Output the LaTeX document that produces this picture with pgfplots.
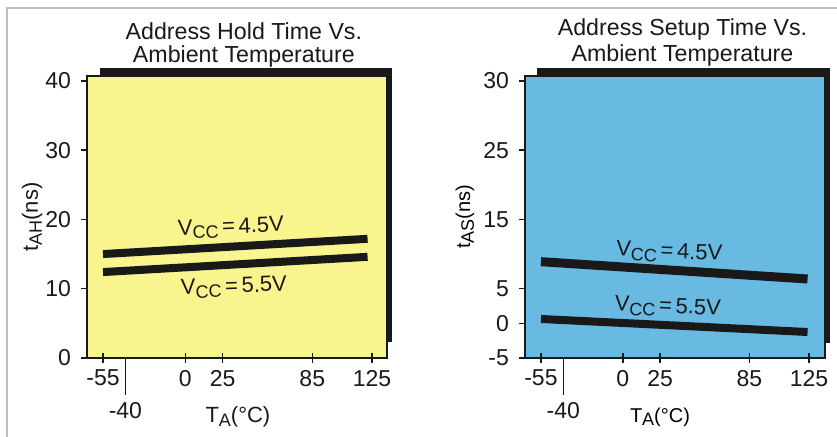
\documentclass[border=0pt]{standalone}
\usepackage{pgfplots}
\pgfplotsset{compat=1.18}
\usepackage{fontspec}
\setmainfont{Liberation Sans}
\definecolor{yel}{RGB}{248,244,142}
\definecolor{blu}{RGB}{104,186,226}
\definecolor{ink}{RGB}{25,25,25}
\newcommand\lo[1]{\raisebox{-0.35ex}{\fontsize{9}{9}\selectfont #1}}
\newcommand\vcc[1]{V\lo{CC}\,=\,#1V}
\begin{document}
\begin{tikzpicture}
\useasboundingbox (-43.5pt,-39.5pt) rectangle (375pt,179pt);
\draw[gray!50, line width=0.6pt] (-40pt,-39.5pt) -- (-40pt,175pt) -- (375pt,175pt);
\fill[ink] (6.5pt,8pt) rectangle (152.5pt,145pt);
\fill[ink] (225pt,7.5pt) rectangle (371.5pt,145pt);
\pgfplotsset{
  panel/.style={
    scale only axis, width=150pt, height=141pt, clip=false,
    axis line style={ink, line width=0.9pt},
    xmin=-65.7, xmax=135,
    xtick={-55,0,25,85,125}, xticklabels={-55,0,25,85,125},
    xtick pos=bottom, ytick pos=left,
    tick align=center, major tick length=5pt,
    tick style={ink, line width=0.7pt},
    extra x ticks={-40}, extra x tick labels={-40},
    extra x tick style={tick align=outside, major tick length=18.5pt},
    ytick=\empty,
    extra y tick style={tick align=outside, major tick length=3pt},
    tick label style={font=\fontsize{11.5}{13}\selectfont, text=ink},
    yticklabel style={xshift=-1.5pt},
    every axis x label/.style={at={(axis description cs:0.503,-0.209)}, anchor=center},
    every axis y label/.style={at={(axis description cs:-0.183,0.5)}, rotate=90, anchor=center},
    label style={font=\fontsize{11}{12}\selectfont, text=ink},
  }
}
% Left panel
\begin{axis}[panel, at={(0pt,0pt)}, anchor=south west,
  axis background/.style={fill=yel},
  ymin=0, ymax=40.7,
  extra y ticks={0,10,20,30,40}, extra y tick labels={0,10,20,30,40},
  xlabel={T\lo{A}(°C)}, ylabel={t\lo{AH}(ns)}]
\addplot[ink, line width=4pt, line cap=butt] coordinates {(-55,15.0) (122,17.2)};
\addplot[ink, line width=4pt, line cap=butt] coordinates {(-55,12.4) (122,14.6)};
\node[anchor=base, rotate=2, font=\fontsize{11}{12}\selectfont, text=ink] at (axis cs:30.7,18.0) {\vcc{4.5}};
\node[anchor=base, rotate=2, font=\fontsize{11}{12}\selectfont, text=ink] at (axis cs:32.7,9.4) {\vcc{5.5}};
\node[anchor=base, font=\fontsize{11.6}{13}\selectfont, text=ink] at (axis description cs:0.523,1.129) {Address Hold Time Vs.};
\node[anchor=base, font=\fontsize{11.6}{13}\selectfont, text=ink] at (axis description cs:0.523,1.048) {Ambient Temperature};
\end{axis}
% Right panel
\begin{axis}[panel, at={(219pt,0pt)}, anchor=south west,
  axis background/.style={fill=blu},
  xmax=135.7,
  ymin=-5, ymax=35.7,
  extra y ticks={-5,0,5,15,25,35}, extra y tick labels={-5,0,5,15,25,30},
  every axis x label/.style={at={(axis description cs:0.45,-0.209)}, anchor=center},
  every axis y label/.style={at={(axis description cs:-0.2,0.5)}, rotate=90, anchor=center},
  xlabel={T\lo{A}(°C)}, ylabel={t\lo{AS}(ns)}]
\addplot[ink, line width=4.5pt, line cap=butt] coordinates {(-55,8.9) (124,6.4)};
\addplot[ink, line width=4pt, line cap=butt] coordinates {(-55,0.63) (124,-1.25)};
\node[anchor=base, rotate=-2.5, font=\fontsize{11}{12}\selectfont, text=ink] at (axis cs:31,9.4) {\vcc{4.5}};
\node[anchor=base, rotate=-2.5, font=\fontsize{11}{12}\selectfont, text=ink] at (axis cs:30,1.5) {\vcc{5.5}};
\node[anchor=base, font=\fontsize{11.6}{13}\selectfont, text=ink] at (axis description cs:0.525,1.145) {Address Setup Time Vs.};
\node[anchor=base, font=\fontsize{11.6}{13}\selectfont, text=ink] at (axis description cs:0.525,1.051) {Ambient Temperature};
\end{axis}
\end{tikzpicture}
\end{document}
